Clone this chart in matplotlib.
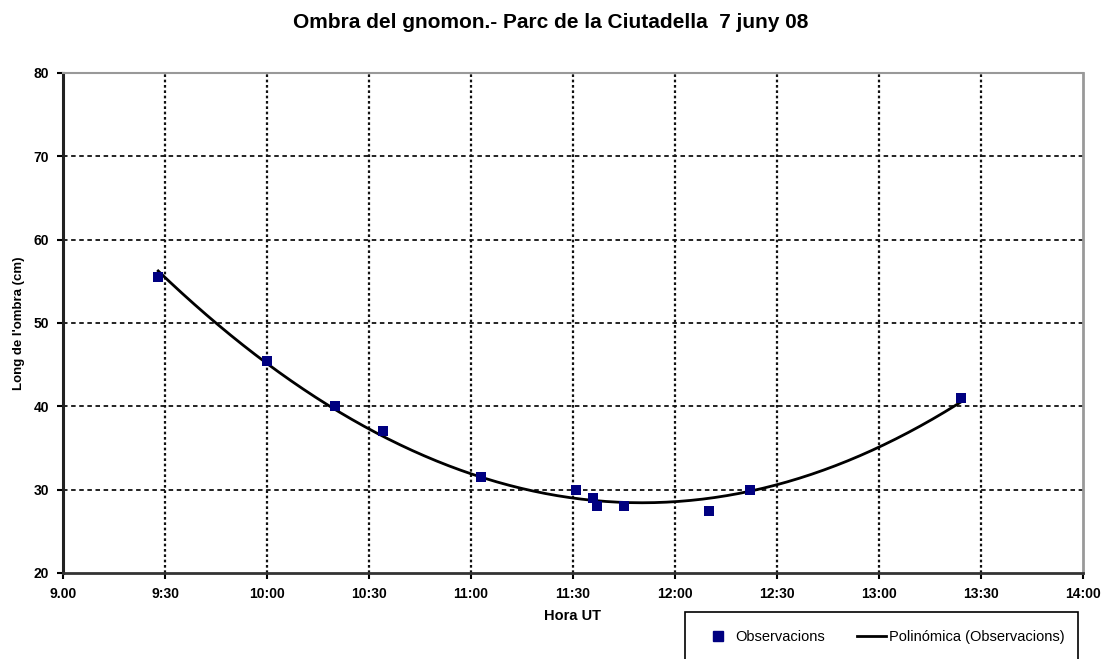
import numpy as np
import matplotlib
matplotlib.use("Agg")
import matplotlib.pyplot as plt
from matplotlib.lines import Line2D
from matplotlib.patches import Rectangle

# Dataset
hores = ["9:28", "10:00", "10:20", "10:34", "11:03", "11:31", "11:36", "11:37",
         "11:45", "12:10", "12:22", "13:24"]
ombra = [55.5, 45.5, 40.0, 37.0, 31.5, 30.0, 29.0, 28.0, 28.0, 27.5, 30.0, 41.0]

xticks_lab = ["9.00", "9:30", "10:00", "10:30", "11:00", "11:30", "12:00",
              "12:30", "13:00", "13:30", "14:00"]


def to_h(s):
    h, m = s.split(":")
    return int(h) + int(m) / 60


x = np.array([to_h(h) for h in hores])
y = np.array(ombra)

# Polynomial trendline (degree 2), like the spreadsheet
coef = np.polyfit(x, y, 2)
xf = np.linspace(x.min(), x.max(), 200)
yf = np.polyval(coef, xf)

plt.rcParams["font.family"] = ["Liberation Sans", "DejaVu Sans"]

fig = plt.figure(figsize=(11.02, 6.59), dpi=100)
ax = fig.add_axes([63 / 1102, 1 - 573 / 659, 1020 / 1102, 500 / 659])

ax.plot(xf, yf, color="black", lw=2, zorder=3)
ax.plot(x, y, "s", color="#000080", markersize=7.5, zorder=4, markeredgewidth=0)

ax.set_xlim(9, 14)
ax.set_ylim(20, 80)
ticks = np.arange(9, 14.01, 0.5)
ax.set_xticks(ticks)
ax.set_xticklabels(xticks_lab)
ax.set_yticks(np.arange(20, 81, 10))

for t in ticks[1:-1]:
    ax.axvline(t, color="#111111", lw=1.6, ls=(0, (1.2, 1.2)), zorder=1)
for v in range(30, 80, 10):
    ax.axhline(v, color="#111111", lw=1.3, ls=(0, (2.5, 2)), zorder=1)

ax.spines["left"].set_color("#222222")
ax.spines["left"].set_linewidth(2.2)
ax.spines["bottom"].set_color("#333333")
ax.spines["bottom"].set_linewidth(2)
ax.spines["top"].set_color("#999999")
ax.spines["top"].set_linewidth(1.5)
ax.spines["right"].set_color("#999999")
ax.spines["right"].set_linewidth(2)

ax.tick_params(direction="out", length=4, width=1.5, labelsize=10, pad=6)
for lab in ax.get_xticklabels() + ax.get_yticklabels():
    lab.set_fontweight("bold")

ax.set_xlabel("Hora UT", fontsize=10.5, fontweight="bold", labelpad=6)
ax.set_ylabel("Long de l'ombra (cm)", fontsize=9.5, fontweight="bold", labelpad=6)

fig.suptitle("Ombra del gnomon.- Parc de la Ciutadella  7 juny 08",
             x=0.5, y=1 - 22 / 659, va="center", fontsize=15, fontweight="bold")

# legend box (runs off the bottom of the picture)
fig.patches.append(Rectangle((685 / 1102, -0.05), 393 / 1102, 0.05 + (659 - 612) / 659,
                             transform=fig.transFigure, fill=False,
                             edgecolor="black", lw=1.2))
handles = [Line2D([], [], marker="s", color="#000080", ls="none", markersize=7.5),
           Line2D([], [], color="black", lw=2)]
fig.legend(handles, ["Observacions", "Polinómica (Observacions)"],
           loc="center left", ncol=2, bbox_to_anchor=(703 / 1102, 1 - 637 / 659),
           frameon=False, borderpad=0, borderaxespad=0,
           handlelength=2.0, handletextpad=0.2, columnspacing=2.2,
           fontsize=10.5)

fig.savefig("out.png", dpi=100)
